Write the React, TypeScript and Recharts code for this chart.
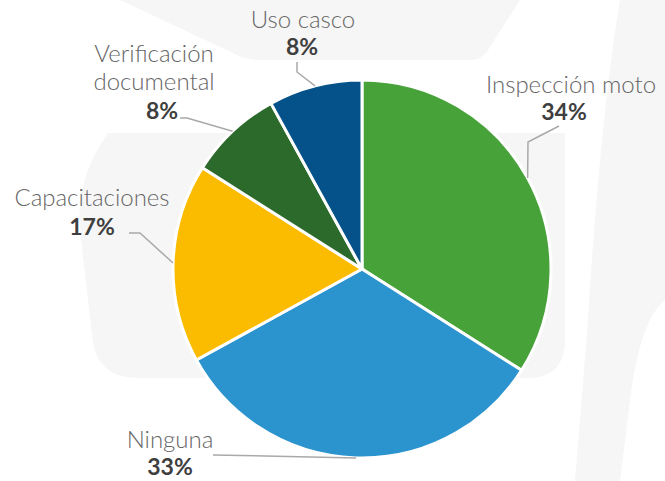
import { PieChart, Pie, Cell } from "recharts"

const categories = ["Inspección moto", "Ninguna", "Capacitaciones", "Verificación documental", "Uso casco"]
const values = [34, 33, 17, 8, 8]
const colors = ["#48a23a", "#2b93cd", "#fbbc00", "#2c6a2c", "#045289"]

const data = categories.map((name, i) => ({ name, value: values[i] }))

// label placement relative to the pie centre: name lines, percent, leader points
const labelLayout = [
  { lines: ["Inspección moto"], nameX: 209, nameY: -176, pctX: 202, pctY: -149, leader: [[166, -127], [197, -143]] },
  { lines: ["Ninguna"], nameX: -192, nameY: 179, pctX: -192, pctY: 206, leader: [[-149, 186]] },
  { lines: ["Capacitaciones"], nameX: -270, nameY: -63, pctX: -270, pctY: -34, leader: [[-222, -36], [-233, -36]] },
  { lines: ["Verificación", "documental"], nameX: -208, nameY: -207, pctX: -200, pctY: -150, leader: [[-175, -151], [-182, -151]] },
  { lines: ["Uso casco"], nameX: -59, nameY: -241, pctX: -60, pctY: -214, leader: [[-65, -197], [-65, -207]] },
]

const RAD = Math.PI / 180
const FONT = "Lato, 'Open Sans', sans-serif"

const renderLabel = (props: any) => {
  const { cx, cy, midAngle, outerRadius, index, value } = props
  const l = labelLayout[index]
  const ex = cx + outerRadius * Math.cos(-midAngle * RAD)
  const ey = cy + outerRadius * Math.sin(-midAngle * RAD)
  const pts = [[ex, ey], ...l.leader.map(([dx, dy]) => [cx + dx, cy + dy])]
  return (
    <g key={`lbl-${index}`}>
      <polyline points={pts.map((p) => p.join(",")).join(" ")} fill="none" stroke="#a9a9a9" strokeWidth={1.5} />
      <text textAnchor="middle" fontFamily={FONT}>
        {l.lines.map((t, k) => (
          <tspan key={k} x={cx + l.nameX} y={cy + l.nameY + k * 28} fill="#666" fontSize={24} fontWeight={300}>
            {t}
          </tspan>
        ))}
        <tspan x={cx + l.pctX} y={cy + l.pctY} fill="#3f3f3f" fontSize={23} fontWeight={700}>
          {value}%
        </tspan>
      </text>
    </g>
  )
}

export default function App() {
  return (
    <div style={{ position: "absolute", left: 0, top: 0, width: 665, height: 481, background: "#fff" }}>
      <svg width={665} height={481} style={{ position: "absolute", left: 0, top: 0 }}>
        <path d="M120 0 L520 0 L488 50 Q482 60 470 60 L262 60 Q245 60 235 54 Z" fill="#f6f6f6" />
        <path d="M108 133 L565 133 L565 340 Q565 378 527 378 L138 378 Q95 378 92 335 L80 230 Q75 180 108 133 Z" fill="#f6f6f6" />
        <path d="M620 0 L665 0 L665 300 Q640 320 630 400 L620 481 L575 481 L587 333 Q600 120 620 0 Z" fill="#f6f6f6" />
      </svg>
      <div style={{ position: "absolute", left: 0, top: 0 }}>
        <PieChart width={665} height={481} margin={{ top: 0, right: 0, bottom: 0, left: 0 }}>
          <Pie
            data={data}
            dataKey="value"
            nameKey="name"
            cx={362}
            cy={269}
            outerRadius={189}
            startAngle={90}
            endAngle={-270}
            stroke="#fff"
            strokeWidth={3}
            label={renderLabel}
            labelLine={false}
            isAnimationActive={false}
          >
            {data.map((d, i) => (
              <Cell key={d.name} fill={colors[i]} />
            ))}
          </Pie>
        </PieChart>
      </div>
    </div>
  )
}
